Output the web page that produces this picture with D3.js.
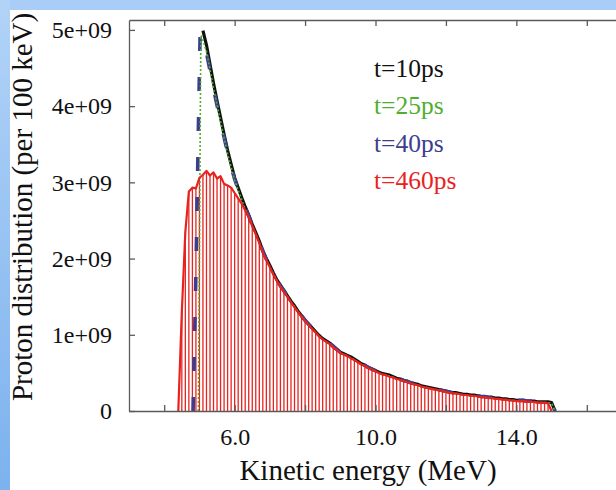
<!DOCTYPE html>
<html><head><meta charset="utf-8">
<script src="https://cdn.jsdelivr.net/npm/d3@7/dist/d3.min.js"></script>
<style>
body{margin:0;background:#fff}
svg{display:block}
svg text{font-family:"Liberation Serif","Times New Roman","DejaVu Serif",serif !important;}
</style>
</head><body>
<script>
// ---------- data (values in units of 1e9 protons per 100 keV) ----------
const unit = 1e9;
const binStart = 4.4;       // MeV, first histogram bin (t=460ps)
const binWidth = 0.1;       // MeV (100 keV bins)

// t=460ps histogram, bins 4.4 ... 15.1 MeV
const red460 = [
 0.00,1.30,2.35,2.88,2.93,2.92,3.06,3.10,3.15,3.09,
 3.13,3.05,3.08,2.98,2.96,2.93,2.86,2.79,2.72,2.63,
 2.54,2.43,2.32,2.21,2.08,1.98,1.89,1.79,1.71,1.63,
 1.56,1.50,1.43,1.36,1.30,1.24,1.18,1.13,1.08,1.03,
 0.98,0.94,0.91,0.88,0.83,0.80,0.76,0.74,0.72,0.69,
 0.67,0.64,0.61,0.59,0.56,0.54,0.52,0.50,0.48,0.47,
 0.45,0.44,0.42,0.41,0.39,0.38,0.36,0.35,0.34,0.32,
 0.31,0.30,0.29,0.28,0.27,0.26,0.25,0.24,0.23,0.23,
 0.22,0.21,0.21,0.20,0.20,0.19,0.18,0.18,0.17,0.17,
 0.16,0.16,0.15,0.15,0.14,0.14,0.13,0.13,0.13,0.12,
 0.12,0.12,0.11,0.11,0.11,0.10,0.00
];

// tails of the early-time curves, on the same 0.1 MeV grid starting at 5.1 MeV
const tailStart = 5.1;
const black10 = [
 4.99,4.80,4.55,4.30,4.07,3.85,3.63,3.42,3.24,3.06,
 2.93,2.80,2.68,2.57,2.45,2.34,2.23,2.10,2.00,1.91,
 1.81,1.72,1.65,1.58,1.51,1.44,1.38,1.31,1.25,1.19,
 1.14,1.09,1.04,0.99,0.95,0.92,0.89,0.85,0.81,0.77,
 0.75,0.73,0.71,0.68,0.65,0.62,0.60,0.57,0.55,0.53,
 0.51,0.49,0.48,0.47,0.45,0.43,0.42,0.40,0.39,0.37,
 0.36,0.35,0.33,0.32,0.31,0.30,0.29,0.28,0.27,0.26,
 0.25,0.24,0.24,0.23,0.22,0.22,0.21,0.21,0.20,0.19,
 0.19,0.18,0.18,0.17,0.17,0.16,0.16,0.15,0.15,0.14,
 0.14,0.14,0.13,0.13,0.13,0.12,0.12,0.12,0.12,0.11,
 0.00
];
const green25 = [
 4.86,4.72,4.48,4.24,4.02,3.80,3.58,3.38,3.20,3.02,
 2.90,2.77,2.65,2.55,2.43,2.32,2.21,2.08,1.98,1.89,
 1.80,1.71,1.63,1.57,1.50,1.43,1.37,1.30,1.24,1.18,
 1.13,1.08,1.03,0.98,0.94,0.91,0.88,0.84,0.80,0.76,
 0.74,0.72,0.70,0.67,0.64,0.61,0.59,0.56,0.54,0.52,
 0.50,0.48,0.47,0.46,0.44,0.42,0.41,0.39,0.38,0.36,
 0.35,0.34,0.32,0.31,0.30,0.29,0.28,0.27,0.26,0.25,
 0.24,0.23,0.23,0.22,0.21,0.21,0.20,0.20,0.19,0.18,
 0.18,0.17,0.17,0.16,0.16,0.15,0.15,0.14,0.14,0.13,
 0.13,0.13,0.12,0.12,0.12,0.11,0.11,0.11,0.11,0.10,
 0.00
];
const blue40 = [
 4.84,4.70,4.47,4.23,4.01,3.80,3.59,3.39,3.21,3.04,
 2.91,2.78,2.67,2.56,2.44,2.33,2.22,2.10,1.99,1.90,
 1.81,1.72,1.64,1.58,1.51,1.44,1.38,1.31,1.25,1.19,
 1.14,1.09,1.04,0.99,0.95,0.92,0.89,0.85,0.81,0.77,
 0.75,0.73,0.71,0.68,0.65,0.62,0.60,0.57,0.55,0.53,
 0.51,0.49,0.48,0.47,0.45,0.43,0.42,0.40,0.39,0.37,
 0.36,0.35,0.33,0.32,0.31,0.30,0.29,0.28,0.27,0.26,
 0.25,0.24,0.24,0.23,0.22,0.22,0.21,0.21,0.20,0.19,
 0.19,0.18,0.18,0.17,0.17,0.16,0.16,0.15,0.15,0.14,
 0.14,0.14,0.13,0.13,0.13,0.12,0.12,0.12,0.12,0.11,
 0.00
];
// rising edges before the tail grid
const riseE25 = [4.97, 5.04];
const riseV25 = [0.00, 4.93];
const riseE40 = [4.82, 4.90, 4.97, 5.02];
const riseV40 = [0.00, 1.80, 3.70, 4.95];

const yTicks = [0, 1, 2, 3, 4, 5];
const yTickLabels = ["0", "1e+09", "2e+09", "3e+09", "4e+09", "5e+09"];
const xTicks = [4, 6, 8, 10, 12, 14, 16];
const xTickLabels = ["", "6.0", "", "10.0", "", "14.0", ""];
const legendLabels = ["t=10ps", "t=25ps", "t=40ps", "t=460ps"];
const legendColors = ["#111111", "#4fae2e", "#3d3d8f", "#e8231f"];

// ---------- drawing ----------
const W = 616, H = 490;
const svg = d3.select("body").append("svg").attr("width", W).attr("height", H);
const defs = svg.append("defs");
const g1 = defs.append("linearGradient").attr("id","lg").attr("x1",0).attr("y1",0).attr("x2",0).attr("y2",1);
g1.append("stop").attr("offset","0%").attr("stop-color","#b2d3f7");
g1.append("stop").attr("offset","100%").attr("stop-color","#7cb2ee");
svg.append("rect").attr("width",W).attr("height",H).attr("fill","#fff");
svg.append("rect").attr("x",0).attr("y",0).attr("width",W).attr("height",10).attr("fill","#a9cdf6");
svg.append("rect").attr("x",0).attr("y",0).attr("width",10).attr("height",H).attr("fill","url(#lg)");

const x = d3.scaleLinear().domain([3, 17]).range([129, 622]);
const y = d3.scaleLinear().domain([0, 5.13 * unit]).range([411, 20]);
const font = "Liberation Serif";

const redPts = red460.map((v,i)=>[binStart + i*binWidth, v*unit]);
const tailPts = arr => arr.map((v,i)=>[tailStart + i*binWidth, v*unit]);
const blackPts = tailPts(black10);
const greenPts = riseE25.map((e,i)=>[e, riseV25[i]*unit]).concat(tailPts(green25));
const bluePts = riseE40.map((e,i)=>[e, riseV40[i]*unit]).concat(tailPts(blue40));
const line = d3.line().x(d=>x(d[0])).y(d=>y(d[1]));

// histogram stems
svg.append("g").selectAll("line").data(redPts).join("line")
  .attr("x1",d=>x(d[0])).attr("x2",d=>x(d[0]))
  .attr("y1",y(0)).attr("y2",d=>y(d[1]))
  .attr("stroke","#e8231f").attr("stroke-width",1.3);

svg.append("path").datum(blackPts).attr("d",line).attr("fill","none")
  .attr("stroke","#111").attr("stroke-width",3.2).attr("stroke-linejoin","round");
svg.append("path").datum(bluePts).attr("d",line).attr("fill","none")
  .attr("stroke","#3d3d8f").attr("stroke-width",3.6).attr("stroke-dasharray","14,26");
svg.append("path").datum(greenPts).attr("d",line).attr("fill","none")
  .attr("stroke","#4fae2e").attr("stroke-width",1.6).attr("stroke-dasharray","2,2");
svg.append("path").datum(redPts).attr("d",line).attr("fill","none")
  .attr("stroke","#e8231f").attr("stroke-width",2.2).attr("stroke-linejoin","round");

// axes
const axisColor = "#5a5a5a";
function style(g){
  g.attr("font-family", font);
  g.select(".domain").attr("stroke",axisColor).attr("stroke-width",1.3);
  g.selectAll(".tick line").attr("stroke",axisColor).attr("stroke-width",1.3);
  g.selectAll("text").style("font-size","24px").attr("fill","#111");
}
svg.append("g").attr("transform","translate(129,0)")
  .call(d3.axisLeft(y).tickValues(yTicks.map(v=>v*unit)).tickSizeInner(-6).tickSizeOuter(0).tickPadding(17)
    .tickFormat((d,i)=>yTickLabels[i])).call(style);
svg.append("g").attr("transform","translate(0,411)")
  .call(d3.axisBottom(x).tickValues(xTicks).tickSizeInner(-6).tickSizeOuter(0).tickPadding(17)
    .tickFormat((d,i)=>xTickLabels[i])).call(style);
svg.append("g").attr("transform","translate(0,20)")
  .call(d3.axisTop(x).tickValues(xTicks).tickSizeInner(-6).tickSizeOuter(0).tickFormat("")).call(style);
svg.append("g").attr("transform","translate(622,0)")
  .call(d3.axisRight(y).tickValues(yTicks.map(v=>v*unit)).tickSizeInner(-6).tickSizeOuter(0).tickFormat("")).call(style);

// titles
svg.append("text").attr("x",368).attr("y",480).attr("text-anchor","middle")
  .style("font-size","29px").attr("fill","#111").text("Kinetic energy (MeV)");
svg.append("text").attr("transform","translate(32,207) rotate(-90)").attr("text-anchor","middle")
  .style("font-size","29px").attr("fill","#111").text("Proton distribution (per 100 keV)");

// legend
svg.append("g").selectAll("text").data(legendLabels).join("text")
  .attr("x",374).attr("y",(d,i)=>77 + i*37.4)
  .style("font-size","25.5px").attr("fill",(d,i)=>legendColors[i]).text(d=>d);
</script>
</body></html>
